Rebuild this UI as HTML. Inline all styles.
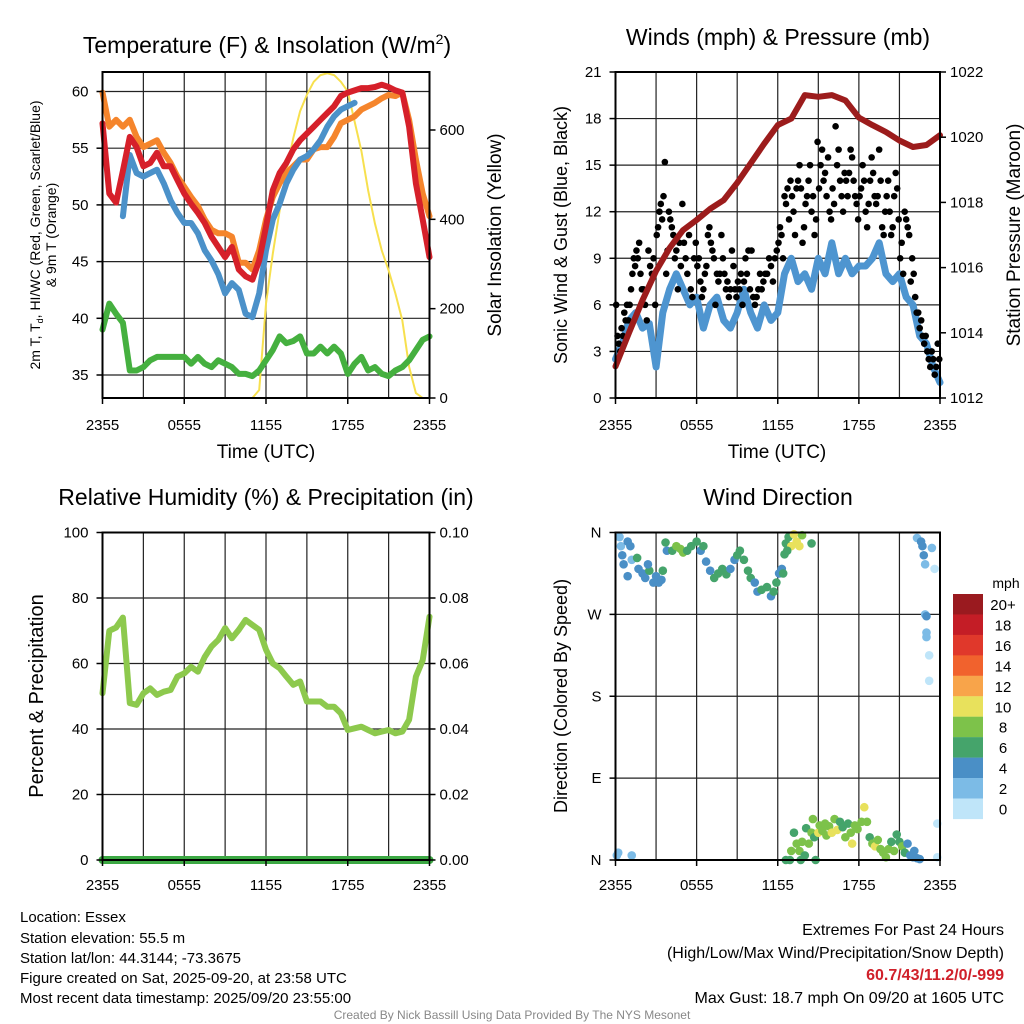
<!DOCTYPE html>
<html><head><meta charset="utf-8"><style>
body{margin:0;background:#fff;}
svg{display:block;font-family:"Liberation Sans",Arial,sans-serif;}
</style></head><body>
<svg id="s" width="1024" height="1024" viewBox="0 0 1024 1024" xmlns="http://www.w3.org/2000/svg">
<text x="267" y="53" font-size="23" text-anchor="middle">Temperature (F) &amp; Insolation (W/m<tspan dy="-9" font-size="14">2</tspan><tspan dy="9">)</tspan></text>
<text x="778" y="45" font-size="23" text-anchor="middle">Winds (mph) &amp; Pressure (mb)</text>
<text x="266" y="505" font-size="23" text-anchor="middle">Relative Humidity (%) &amp; Precipitation (in)</text>
<text x="778" y="505" font-size="23" text-anchor="middle">Wind Direction</text>
<g font-size="14">
<text transform="translate(40,235) rotate(-90)" text-anchor="middle">2m T, T<tspan font-size="9" dy="3">d</tspan><tspan dy="-3">, HI/WC (Red, Green, Scarlet/Blue)</tspan></text>
<text transform="translate(56,235) rotate(-90)" text-anchor="middle">&amp; 9m T (Orange)</text></g>
<text transform="translate(501,235) rotate(-90)" font-size="19" text-anchor="middle">Solar Insolation (Yellow)</text>
<text transform="translate(567,235) rotate(-90)" font-size="18" text-anchor="middle">Sonic Wind &amp; Gust (Blue, Black)</text>
<text transform="translate(1020,235) rotate(-90)" font-size="19" text-anchor="middle">Station Pressure (Maroon)</text>
<text transform="translate(43,696) rotate(-90)" font-size="20" text-anchor="middle">Percent &amp; Precipitation</text>
<text transform="translate(567,696) rotate(-90)" font-size="18" text-anchor="middle">Direction (Colored By Speed)</text>
<text x="266" y="458" font-size="19" text-anchor="middle">Time (UTC)</text>
<text x="777" y="458" font-size="19" text-anchor="middle">Time (UTC)</text>
<g font-size="15">
<text x="20" y="922">Location: Essex</text>
<text x="20" y="943">Station elevation: 55.5 m</text>
<text x="20" y="963">Station lat/lon: 44.3144; -73.3675</text>
<text x="20" y="983">Figure created on Sat, 2025-09-20, at 23:58 UTC</text>
<text x="20" y="1003">Most recent data timestamp: 2025/09/20 23:55:00</text></g>
<g font-size="16" text-anchor="end">
<text x="1004" y="935">Extremes For Past 24 Hours</text>
<text x="1004" y="958">(High/Low/Max Wind/Precipitation/Snow Depth)</text>
<text x="1004" y="980" fill="#d0202a" font-weight="bold">60.7/43/11.2/0/-999</text>
<text x="1004" y="1003">Max Gust: 18.7 mph On 09/20 at 1605 UTC</text></g>
<text x="512" y="1019" font-size="12" fill="#888" text-anchor="middle">Created By Nick Bassill Using Data Provided By The NYS Mesonet</text>
</svg>
<script>
const xTicks=["2355","0555","1155","1755","2355"];
const tempRed=[57.2,51,50.2,53,56,55.1,53.4,53.7,54.6,53.4,53.4,52.2,51,50.1,49.3,48.4,47.2,46.3,45.4,46.3,44.3,43.7,43.4,45.1,48.1,51.3,52.8,53.7,54.9,55.7,56.3,56.9,57.5,58.1,58.7,59.6,59.9,60.1,60.3,60.3,60.4,60.6,60.4,60.1,59.9,56.9,51.9,48.7,45.4];
const tempOrange=[59.9,56.9,57.5,56.9,57.5,56,55.1,55.4,55.7,54.6,53.7,52.5,51.6,50.7,49.9,48.7,47.8,47.5,47.5,47.2,44.9,44.9,44.3,46,48.7,50.7,51.9,52.8,53.4,54,54,54.9,55.1,55.1,56,57.2,57.5,57.8,58.4,58.7,59,59.4,59.7,59.6,59.9,57.5,54,51,49];
const tempBlue=[null,null,null,49,54.4,52.8,52.5,52.8,53.1,51.9,50.4,49.3,48.4,48.4,47.5,46,45.1,43.9,42.2,43.1,42.5,40.4,40.1,42.2,46,48.7,50.1,51.9,53.1,54,54.3,54.9,55.7,56.9,57.8,58.4,58.7,59,null,null,null,null,null,null,null,null,null,null,null];
const tempGreen=[39,41.3,40.4,39.6,35.4,35.4,35.7,36.3,36.6,36.6,36.6,36.6,36.6,36,36.6,36,35.7,36.3,36,35.7,35.1,35.1,34.9,35.4,36.3,37.2,38.4,37.8,38,38.4,36.9,36.9,37.5,36.9,37.5,36.9,35.1,36,36.6,35.4,35.7,35.1,34.9,35.4,35.7,36.3,37.2,38.1,38.4];
const solar=[0,0,0,0,0,0,0,0,0,0,0,0,0,0,0,0,0,0,0,0,0,0,0,18,211,323,419,508,582,642,679,708,723,727,723,708,686,619,553,464,390,330,286,234,174,70,11,0,0];
const pressure=[1012.97,1014.0,1015.0,1015.9,1016.6,1017.15,1017.46,1017.8,1018.07,1018.6,1019.2,1019.8,1020.37,1020.57,1021.29,1021.24,1021.29,1021.13,1020.6,1020.37,1020.16,1019.9,1019.7,1019.76,1020.06];
const windSpeed=[2.5,3.5,5,5.5,4.5,4.8,2,5.5,7,8,7,6,6.5,4.5,6,6.5,5,4.5,5.5,7,5.5,4.5,6,5,5.5,8,9,7.5,8,7,9,8,10,8,9,8,8.5,8.5,9,10,8,7.5,8,6.5,6,4,3.5,2,1];
const gusts=[[6,4,3.5,3,4.5,4,5.5,5,6,5],[6,7,8,9,8.5,9.5,9,10,8,7],[7,6,5,9.5,8.5,8,9,6],[10.5,11,12,12.5,11.5,13,15.2,8,9.5,12],[11.5,11,10.5,9,9.5,7,10,8.5,12.5],[10,9,8,10.5,7,6.5,9,10],[8.5,9,7.5,6.5,7,8,8.5,10.5,11],[10,9.5,9,6,8,7.5,8,10.5,9],[8,7,7.5,6.5,7,9.5,8.5,7,6.5],[7.5,7,8,6,7.5,9,8,9.5,7],[9.5,6.5,6,6.5,7,8,7,7.5],[8,8,9,8.5,7.5,9,9.5],[10,11,10.5,9,13,12.5,13.5,11.5,14],[13,12,10.5,13.5,14,15,13.5,10,11],[12.5,13,14,15,12,13,10.5,11.5,16.5],[13.5,15,16,14,14.5,13,15.5,12,11.5],[13.5,12.5,17.5,15,16,14,13,12,14.5],[14,13,14.5,16,15.5,14,13,12.5,11.5],[13,13.5,15,14,12,11,12.5,14,15.5],[14.5,13,12.5,13,16,14,11,10.5,12],[13,14,12,10.5,11,13,14.5,13.5,11.5],[9,10,8,12,11.5,11,10.5,7.5,9],[8,6.5,5.5,5.5,4.5,5,4,3.5,4],[3,2.5,2,3,2.5,1.5,2,3.5,2.5]];
const rh=[50.9,70,71,74,47.9,47.4,50.9,52.4,50.4,51.4,51.9,56,57,59,57.5,62,65.2,67.2,70.8,67.7,70.3,73.3,71.8,70.3,64.2,60,58.6,56,53.5,54.5,48.4,48.4,48.4,46.8,46.8,44.8,39.7,40.2,40.7,39.7,38.7,39.2,39.7,38.7,39.2,42.8,56,61,74.3];
const precip=[0,0,0,0,0,0,0,0,0,0,0,0,0,0,0,0,0,0,0,0,0,0,0,0,0];
const dirHours=[0.3,0.4,0.5,0.6,0.9,1.1,0.9,1.2,0.1,0.2,1.2,1.7,2.0,2.2,2.5,2.8,3.0,3.2,3.4,3.5,2.4,1.6,3.7,3.8,4.2,4.5,4.8,5.0,5.3,5.6,6.0,6.3,6.5,6.7,7.0,7.3,7.6,7.9,8.2,8.5,8.8,9.0,9.2,9.5,9.8,10.0,10.3,10.5,10.8,11.2,11.5,11.7,11.9,12.1,12.3,12.4,12.5,12.6,12.8,13.0,13.2,13.4,13.6,13.8,14.5,12.7,22.3,22.6,22.7,22.8,22.9,23.4,23.6,22.9,23.0,23.0,23.0,23.2,23.2,23.8,23.8,12.6,12.9,13.0,13.2,13.4,13.6,13.8,14.0,14.1,14.3,14.5,14.6,14.7,15.0,15.1,15.3,15.5,15.6,15.8,16.0,16.2,16.4,16.6,16.8,17.0,17.2,17.4,17.5,17.7,17.9,18.2,18.4,18.6,18.8,19.0,19.2,19.4,19.6,19.8,20.0,20.2,20.4,20.6,20.8,21.0,21.2,21.4,21.6,21.8,22.0,22.1,22.3,22.5,13.7,14.8];
const dirDegs=[355,345,335,325,350,345,312,330,5,8,5,320,315,310,318,305,312,305,308,318,325,332,349,340,340,345,342,338,340,345,350,340,345,328,318,310,315,320,314,320,330,335,340,330,318,310,305,295,297,300,290,295,305,315,320,315,336,348,355,345,358,350,345,357,348,340,354,350,345,335,325,343,320,270,268,250,245,225,197,40,3,0,0,10,30,18,10,20,5,35,18,30,45,25,30,38,32,40,27,37,30,45,33,42,36,25,40,30,18,38,34,42,58,42,25,18,15,22,12,8,3,12,20,10,28,20,15,8,18,5,3,10,2,1,0,0];
const dirSpeeds=[2,3,4,4,4,4,4,3,2,2,2,4,4,4,6,4,4,4,4,6,4,6,6,4,6,8,8,8,6,6,6,4,6,4,4,6,6,6,6,4,4,6,6,6,6,6,4,4,6,6,4,6,6,4,4,6,6,6,6,10,10,10,10,8,6,6,2,4,4,4,2,2,1,2,4,2,2,1,1,1,1,6,6,8,6,8,8,8,6,6,8,8,8,6,10,8,8,8,8,8,10,8,10,6,6,8,6,8,10,8,8,8,10,8,6,8,10,8,8,8,8,8,6,8,6,6,8,6,4,4,4,4,4,4,6,6];
const cbLabels=["20+","18","16","14","12","10","8","6","4","2","0"];
const cbColors=["#9a1a1f","#c41d26","#e0382b","#f1622d","#f8a44a","#e8e15c","#7dc24a","#45a46b","#4a8fc6","#7cbbe6","#bfe5f9"];

const NS="http://www.w3.org/2000/svg";const S=document.getElementById('s');
function mk(t,a,p){const e=document.createElementNS(NS,t);for(const k in a)e.setAttribute(k,a[k]);(p||S).appendChild(e);return e;}
function panel(x0,x1,y0,y1,name){
  const g=mk('g',{});
  return {g,x0,x1,y0,y1,X:h=>x0+(x1-x0)*h/24};
}
function lin(d0,d1,r0,r1){return v=>r0+(v-d0)*(r1-r0)/(d1-d0);}
function grid(P,Y,yt){
  for(let i=0;i<=8;i++){const x=P.X(i*3);mk('line',{x1:x,x2:x,y1:P.y0,y2:P.y1,stroke:'#222','stroke-width':1.2},P.g);}
  yt.forEach(v=>{const y=Y(v);mk('line',{x1:P.x0,x2:P.x1,y1:y,y2:y,stroke:'#222','stroke-width':1.2},P.g);});
}
function frame(P){const f=mk('rect',{x:P.x0,y:P.y0,width:P.x1-P.x0,height:P.y1-P.y0,fill:'none',stroke:'#000','stroke-width':2},P.g);
  }
function xlabels(P,yb){xTicks.forEach((t,i)=>{const x=P.X(i*6);
  mk('line',{x1:x,x2:x,y1:P.y1,y2:P.y1+6,stroke:'#000','stroke-width':1.5},P.g);
  const e=mk('text',{x:x,y:yb,'font-size':15,'text-anchor':'middle'},P.g);e.textContent=t;
  });}
function ylabels(P,Y,vals,fmt,side){vals.forEach(v=>{const y=Y(v);const left=side==='l';
  const x=left?P.x0:P.x1;mk('line',{x1:x,x2:left?x-6:x+6,y1:y,y2:y,stroke:'#000','stroke-width':1.5},P.g);
  const e=mk('text',{x:left?x-14:x+10,y:y+5,'font-size':15,'text-anchor':left?'end':'start'},P.g);e.textContent=fmt(v);
  });}
function path(P,arr,step,Y,col,w,name){let d='',pen=false;arr.forEach((v,i)=>{if(v===null){pen=false;return;}
  d+=(pen?'L':'M')+P.X(i*step).toFixed(1)+','+Y(v).toFixed(1);pen=true;});
  const e=mk('path',{d:d,fill:'none',stroke:col,'stroke-width':w,'stroke-linejoin':'round','stroke-linecap':'round'},P.g);
  return e;}

// Panel 1
const P1=panel(102.5,429.5,72,398,'temperature-panel');
const Y1=lin(35,60,375,91.5), S1=lin(0,600,398,130);
grid(P1,Y1,[35,40,45,50,55,60]);
path(P1,solar,0.5,S1,'#f7e04e',2,'solar-line');
path(P1,tempGreen,0.5,Y1,'#45b03f',6,'dewpoint-line');
path(P1,tempOrange,0.5,Y1,'#f5852c',6,'temp-9m-line');
path(P1,tempBlue,0.5,Y1,'#4b91c9',6,'windchill-line');
path(P1,tempRed,0.5,Y1,'#d6202a',6,'temp-2m-line');
frame(P1);xlabels(P1,430);ylabels(P1,Y1,[35,40,45,50,55,60],v=>v,'l');ylabels(P1,S1,[0,200,400,600],v=>v,'r');

// Panel 2
const P2=panel(615.5,940,72,398,'wind-panel');
const Y2=lin(0,21,398,72), PR=lin(1012,1022,398,72);
grid(P2,Y2,[3,6,9,12,15,18]);
path(P2,windSpeed,0.5,Y2,'#4e95d0',7,'wind-speed-line');
gusts.forEach((arr,h)=>arr.forEach((v,i)=>{const c=mk('circle',{cx:P2.X(h+(i+0.5)/arr.length),cy:Y2(v),r:3.3,fill:'#000'},P2.g);
  }));
path(P2,pressure,1,PR,'#9c1c1c',6,'pressure-line');
frame(P2);xlabels(P2,430);ylabels(P2,Y2,[0,3,6,9,12,15,18,21],v=>v,'l');ylabels(P2,PR,[1012,1014,1016,1018,1020,1022],v=>v,'r');

// Panel 3
const P3=panel(102.5,429.5,532.5,860,'humidity-panel');
const Y3=lin(0,100,860,532.5), PP=lin(0,0.1,860,532.5);
grid(P3,Y3,[20,40,60,80]);
path(P3,rh,0.5,Y3,'#8dc94d',6,'rh-line');
path(P3,precip,1,PP,'#3ca843',8,'precip-line');
frame(P3);xlabels(P3,890);ylabels(P3,Y3,[0,20,40,60,80,100],v=>v,'l');ylabels(P3,PP,[0,0.02,0.04,0.06,0.08,0.1],v=>v.toFixed(2),'r');

// Panel 4
const P4=panel(615.5,940,532.5,860,'direction-panel');
const Y4=lin(0,360,860,532.5);
grid(P4,Y4,[90,180,270]);
function spColor(s){let i=Math.floor(s/2);if(i>10)i=10;return cbColors[10-i];}
dirHours.forEach((h,i)=>{const c=mk('circle',{cx:P4.X(h),cy:Y4(dirDegs[i]),r:4.3,fill:spColor(dirSpeeds[i])},P4.g);
  });
frame(P4);xlabels(P4,890);ylabels(P4,Y4,[0,90,180,270,360],v=>['N','E','S','W','N'][v/90],'l');
// colorbar
const CB=mk('g',{});
const cbTitle=mk('text',{x:1006,y:588,'font-size':14,'text-anchor':'middle'},CB);cbTitle.textContent='mph';
cbLabels.forEach((l,i)=>{const y=594+i*20.45;mk('rect',{x:953,y:y,width:30,height:20.6,fill:cbColors[i]},CB);
  const t=mk('text',{x:1003,y:y+16,'font-size':15,'text-anchor':'middle'},CB);t.textContent=l;
  });
</script>
</body></html>
